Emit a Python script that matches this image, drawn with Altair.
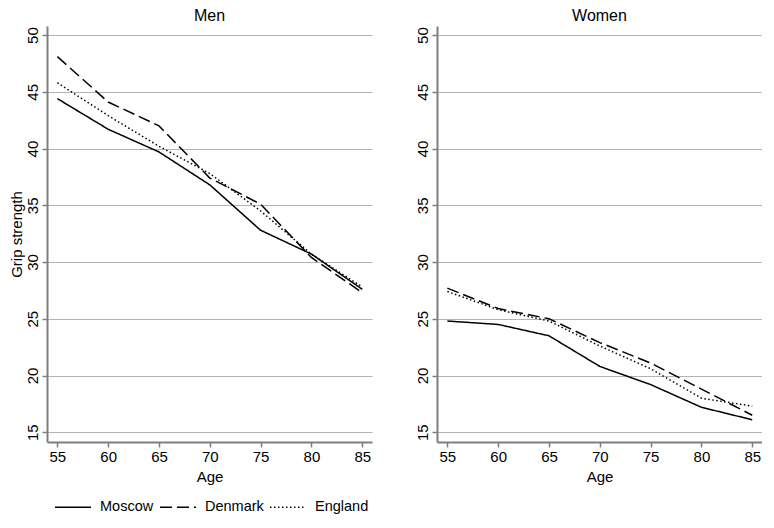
import altair as alt
import pandas as pd

ages = [55, 60, 65, 70, 75, 80, 85]
countries = ["Moscow", "Denmark", "England"]

men_moscow = [44.4, 41.7, 39.7, 36.8, 32.8, 30.7, 27.6]
men_denmark = [48.1, 44.1, 42.0, 37.4, 35.1, 30.4, 27.3]
men_england = [45.8, 42.9, 40.2, 37.8, 34.5, 30.7, 27.8]

women_moscow = [24.8, 24.5, 23.5, 20.8, 19.2, 17.2, 16.1]
women_denmark = [27.7, 25.9, 25.0, 22.9, 21.1, 18.8, 16.5]
women_england = [27.4, 25.8, 24.8, 22.6, 20.6, 18.0, 17.3]

y_ticks = [15, 20, 25, 30, 35, 40, 45, 50]

rows = []
for sex, series in [("Men", [men_moscow, men_denmark, men_england]),
                    ("Women", [women_moscow, women_denmark, women_england])]:
    for c, vals in zip(countries, series):
        for a, v in zip(ages, vals):
            rows.append({"sex": sex, "country": c, "age": a, "grip": v})
df = pd.DataFrame(rows)

FONT = "Liberation Sans"
W, H = 325, 416

dash_scale = alt.Scale(domain=countries, range=[[1, 0], [12, 5], [1.5, 2.5]])


def panel(sex, show_title, show_legend):
    yaxis = alt.Axis(
        values=y_ticks,
        title="Grip strength" if show_title else None,
        labelAngle=270,
        labelAlign="center",
        labelBaseline="bottom",
        titlePadding=1,
        labelPadding=2,
    )
    if show_legend:
        legend = alt.Legend(
            title=None,
            orient="none",
            direction="horizontal",
            legendX=7,
            legendY=462,
            symbolType="stroke",
            symbolSize=1300,
            symbolStrokeWidth=1.5,
            symbolStrokeColor="black",
            labelFontSize=14.5,
            labelFont=FONT,
            labelColor="black",
            labelOffset=8,
            columnPadding=2,
        )
    else:
        legend = None
    return (
        alt.Chart(df[df["sex"] == sex])
        .mark_line(color="black", strokeWidth=1.5)
        .encode(
            x=alt.X("age:Q", scale=alt.Scale(domain=[53.98, 85.96], nice=False, zero=False),
                    axis=alt.Axis(values=ages, title="Age", grid=False, labelPadding=2,
                                  titlePadding=5)),
            y=alt.Y("grip:Q", scale=alt.Scale(domain=[14.14, 50.8], nice=False, zero=False),
                    axis=yaxis),
            strokeDash=alt.StrokeDash("country:N", scale=dash_scale, legend=legend,
                                      sort=countries),
            detail="country:N",
        )
        .properties(
            width=W,
            height=H,
            title=alt.TitleParams(sex, fontSize=16, font=FONT, fontWeight="normal",
                                  color="black", frame="group", offset=2),
        )
    )


chart = (
    alt.hconcat(panel("Men", True, True), panel("Women", False, False), spacing=42)
    .properties(padding=0)
    .configure_view(stroke=None)
    .configure_axis(
        labelFont=FONT,
        titleFont=FONT,
        labelFontSize=15,
        titleFontSize=15,
        titleFontWeight="normal",
        labelColor="black",
        titleColor="black",
        domainColor="#7f7f7f",
        domainWidth=2,
        tickColor="#7f7f7f",
        tickWidth=1.5,
        tickSize=5,
        gridColor="#b4b4b4",
        gridWidth=1,
    )
)

chart.save("out.html", embed_options={"renderer": "svg", "actions": False})
